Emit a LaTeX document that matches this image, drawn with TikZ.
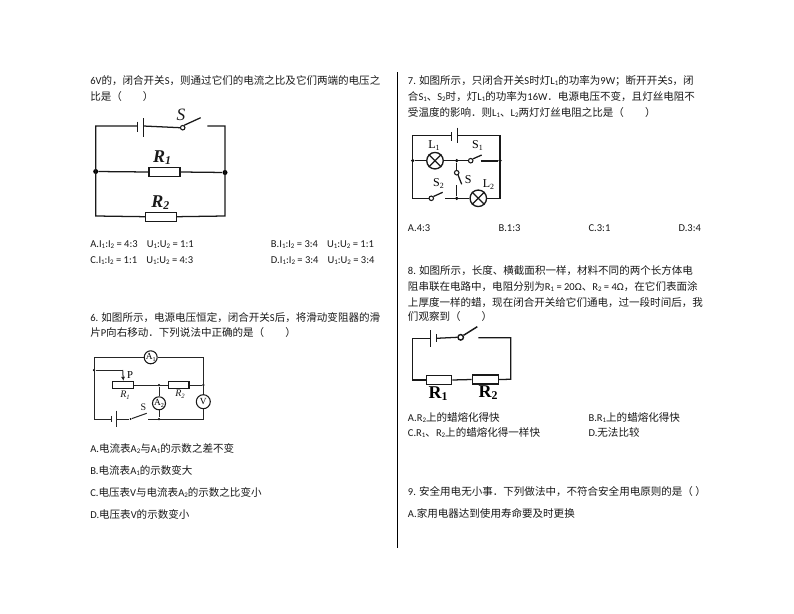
\documentclass[tikz,border=0pt]{standalone}
\usepackage{fontspec}
\usetikzlibrary{calc,arrows.meta}
\setmainfont{Carlito}
\newfontfamily\cjkfont{Noto Sans CJK SC}
\newfontfamily\lab{Liberation Serif}
\newcommand\zh[1]{{\cjkfont #1}}
\newcommand\sbs[1]{\raisebox{-0.8pt}{\fontsize{5.2pt}{6pt}\selectfont #1}}
\newcommand\sbl[1]{\raisebox{-1.5pt}{\fontsize{0.66em}{1em}\selectfont #1}}
\newcommand\gap{\hspace{6.8pt}}
\def\px{0.75pt}
\tikzset{
  txt/.style={anchor=west,inner sep=0pt,text height=6.5pt,text depth=1.5pt,font=\fontsize{7.9pt}{9pt}\selectfont,text=black!90},
  wire/.style={draw=black!90,line width=0.95pt},
  thin wire/.style={draw=black!85,line width=0.75pt},
  res/.style={draw=black!90,line width=1pt,fill=white,rectangle,inner sep=0pt},
  meter/.style={draw=black!90,line width=0.8pt,fill=white,circle,inner sep=0pt,minimum size=13*\px,font=\lab\fontsize{7pt}{8pt}\selectfont},
  lamp/.style={draw=black!90,line width=1pt,fill=white,circle,inner sep=0pt,minimum size=16.5*\px},
  pivot/.style={draw=black!90,line width=0.8pt,fill=white,circle,inner sep=0pt,minimum size=4.5*\px},
  dot/.style={fill=black,circle,inner sep=0pt,minimum size=3.5*\px},
  biglab/.style={inner sep=0pt,font=\lab\fontsize{13.5pt}{14pt}\selectfont\bfseries\itshape,text=black!90},
  boldlab/.style={inner sep=0pt,font=\lab\fontsize{13.5pt}{14pt}\selectfont\bfseries,text=black},
  smalllab/.style={inner sep=0pt,font=\lab\fontsize{9pt}{10pt}\selectfont,text=black},
  minilab/.style={inner sep=0pt,font=\lab\fontsize{7.5pt}{8pt}\selectfont,text=black!90},
}
\begin{document}
\begin{tikzpicture}[x=\px,y=-\px]
\useasboundingbox[fill=white] (0,0) rectangle (794,614);
% divider
\coordinate (divT) at (397.5,72); \coordinate (divB) at (397.5,548);
\draw[black,line width=0.8pt] (divT) -- (divB);

% ---- left column text
\node[txt] (a1) at (90,81.5) {6V\zh{的，闭合开关}S\zh{，则通过它们的电流之比及它们两端的电压之}};
\node[txt] (a2) at (90,96.7) {\zh{比是（　　）}};
\node[txt] (a3) at (90,244.3) {A.I\sbs{1}:I\sbs{2} = 4:3\gap U\sbs{1}:U\sbs{2} = 1:1};
\node[txt] (a4) at (270.7,244.3) {B.I\sbs{1}:I\sbs{2} = 3:4\gap U\sbs{1}:U\sbs{2} = 1:1};
\node[txt] (a5) at (90,260) {C.I\sbs{1}:I\sbs{2} = 1:1\gap U\sbs{1}:U\sbs{2} = 4:3};
\node[txt] (a6) at (270.7,260) {D.I\sbs{1}:I\sbs{2} = 3:4\gap U\sbs{1}:U\sbs{2} = 3:4};
\node[txt] (b1) at (90,318.3) {6. \zh{如图所示，电源电压恒定，闭合开关}S\zh{后，将滑动变阻器的滑}};
\node[txt] (b2) at (90,333.3) {\zh{片}P\zh{向右移动．下列说法中正确的是（　　）}};
\node[txt] (b3) at (90,449.3) {A.\zh{电流表}A\sbs{2}\zh{与}A\sbs{1}\zh{的示数之差不变}};
\node[txt] (b4) at (90,471) {B.\zh{电流表}A\sbs{1}\zh{的示数变大}};
\node[txt] (b5) at (90,492.7) {C.\zh{电压表}V\zh{与电流表}A\sbs{2}\zh{的示数之比变小}};
\node[txt] (b6) at (90,515) {D.\zh{电压表}V\zh{的示数变小}};

% ---- right column text
\node[txt] (c1) at (407.7,80.7) {7. \zh{如图所示，只闭合开关}S\zh{时灯}L\sbs{1}\zh{的功率为}9W\zh{；断开开关}S\zh{，闭}};
\node[txt] (c2) at (407.7,97) {\zh{合}S\sbs{1}\zh{、}S\sbs{2}\zh{时，灯}L\sbs{1}\zh{的功率为}16W\zh{．电源电压不变，且灯丝电阻不}};
\node[txt] (c3) at (407.7,112.7) {\zh{受温度的影响．则}L\sbs{1}\zh{、}L\sbs{2}\zh{两灯灯丝电阻之比是（　　）}};
\node[txt] (c4) at (407.7,228.3) {A.4:3};
\node[txt] (c5) at (498.3,228.3) {B.1:3};
\node[txt] (c6) at (588.3,228.3) {C.3:1};
\node[txt] (c7) at (678.3,228.3) {D.3:4};
\node[txt] (d1) at (407.7,270.7) {8. \zh{如图所示，长度、横截面积一样，材料不同的两个长方体电}};
\node[txt] (d2) at (407.7,286.7) {\zh{阻串联在电路中，电阻分别为}R\sbs{1} = 20Ω\zh{、}R\sbs{2} = 4Ω\zh{，在它们表面涂}};
\node[txt] (d3) at (407.7,302.7) {\zh{上厚度一样的蜡，现在闭合开关给它们通电，过一段时间后，我}};
\node[txt] (d4) at (407.7,317.3) {\zh{们观察到（　　）}};
\node[txt] (d5) at (407.7,418.3) {A.R\sbs{2}\zh{上的蜡熔化得快}};
\node[txt] (d6) at (588.3,418.3) {B.R\sbs{1}\zh{上的蜡熔化得快}};
\node[txt] (d7) at (407.7,433.3) {C.R\sbs{1}\zh{、}R\sbs{2}\zh{上的蜡熔化得一样快}};
\node[txt] (d8) at (588.3,433.3) {D.\zh{无法比较}};
\node[txt] (e1) at (407.7,492) {9. \zh{安全用电无小事．下列做法中，不符合安全用电原则的是（ ）}};
\node[txt] (e2) at (407.7,514) {A.\zh{家用电器达到使用寿命要及时更换}};

% ---- circuit 1
\coordinate (p1tl) at (95.7,126); \coordinate (p1tr) at (225,126);
\coordinate (p1bl) at (95.7,216); \coordinate (p1br) at (225,216);
\coordinate (p1bs) at (137.7,126); \coordinate (p1bl2) at (143.3,126);
\coordinate (p1sw) at (207.3,126);
\coordinate (p1tip) at (200.7,117.7);
\node[dot,minimum size=5*\px] (p1jl) at (95.7,171.5) {};
\node[dot,minimum size=5*\px] (p1jr) at (225,172.5) {};
\node[res,minimum width=31*\px,minimum height=9*\px] (p1r1) at (164.5,172) {};
\node[res,minimum width=30.5*\px,minimum height=9*\px] (p1r2) at (161,216.7) {};
\node[pivot] (p1pv) at (182.7,127.7) {};
\draw[wire] (p1bs) -- (p1tl) -- (p1bl) -- (p1r2.west);
\draw[wire] (p1r2.east) -- (p1br) -- (p1tr) -- (p1sw);
\draw[wire] (p1bl2) -- (p1pv.west);
\draw[wire] (p1pv.60) -- (p1tip);
\draw[wire] (p1jl) -- (p1r1.west);
\draw[wire] (p1r1.east) -- (p1jr);
\draw[wire] ($(p1bs)+(0,-4.5)$) -- ($(p1bs)+(0,5.5)$);
\draw[wire] ($(p1bl2)+(0,-8)$) -- ($(p1bl2)+(0,11)$);
\node[biglab] (p1L1) at (162,157.5) {R\sbl{1}};
\node[biglab] (p1L2) at (160.3,203) {R\sbl{2}};
\node[biglab,font=\lab\fontsize{13pt}{14pt}\selectfont\itshape] (p1S) at (181,115) {S};

% ---- circuit 6
\coordinate (p6tl) at (94,357.3); \coordinate (p6tr) at (203.3,357.3);
\coordinate (p6bl) at (94,419); \coordinate (p6br) at (203.3,419);
\coordinate (p6b1) at (111.7,419); \coordinate (p6b2) at (116.7,419);
\coordinate (p6sw) at (148.3,419); \coordinate (p6tip) at (146.7,413.3);
\coordinate (p6arr) at (122.7,370);
\node[dot,minimum size=2.5*\px] (p6j0) at (94,370) {};
\node[dot,minimum size=2.5*\px] (p6j1) at (159,385) {};
\node[dot,minimum size=2.5*\px] (p6j2) at (159,419) {};
\node[dot,minimum size=2.5*\px] (p6j3) at (203.3,385) {};
\node[dot,minimum size=2*\px] (p6pv) at (130.7,419) {};
\node[res,minimum width=21*\px,minimum height=7*\px] (p6r1) at (123.3,385) {};
\node[res,minimum width=20.5*\px,minimum height=6.5*\px] (p6r2) at (178.7,385) {};
\node[meter] (p6a1) at (150.7,357.3) {A\sbl{1}};
\node[meter] (p6a2) at (159,403.3) {A\sbl{2}};
\node[meter,minimum size=14*\px] (p6v) at (203.3,401.7) {V};
\draw[thin wire] (p6a1.west) -- (p6tl) -- (p6bl) -- (p6b1);
\draw[thin wire] (p6a1.east) -- (p6tr) -- (p6v.north);
\draw[thin wire] (p6v.south) -- (p6br) -- (p6sw);
\draw[thin wire] (p6b2) -- (p6pv);
\draw[thin wire] (p6pv) -- (p6tip);
\draw[thin wire] (p6j0) -- (p6arr);
\draw[thin wire,-{Latex[length=3pt,width=3pt]}] (p6arr) -- (p6r1.north);
\draw[thin wire] (p6r1.east) -- (p6r2.west);
\draw[thin wire] (p6r2.east) -- (p6j3);
\draw[thin wire] (p6j1) -- (p6a2.north);
\draw[thin wire] (p6a2.south) -- (p6j2);
\draw[thin wire] ($(p6b1)+(0,-3.2)$) -- ($(p6b1)+(0,3.2)$);
\draw[thin wire] ($(p6b2)+(0,-8.3)$) -- ($(p6b2)+(0,8.3)$);
\node[smalllab,font=\lab\fontsize{8pt}{9pt}\selectfont] (p6P) at (130,375.5) {P};
\node[minilab,font=\lab\itshape\fontsize{7.5pt}{8pt}\selectfont] (p6R1) at (125,395) {R\sbl{1}};
\node[minilab,font=\lab\itshape\fontsize{7.5pt}{8pt}\selectfont] (p6R2) at (180,394.5) {R\sbl{2}};
\node[minilab] (p6S) at (143.3,407.7) {S};

% ---- circuit 7
\coordinate (p7tl) at (412.7,135.7); \coordinate (p7tr) at (500,135.7);
\coordinate (p7bl) at (412.7,198.3); \coordinate (p7br) at (500,198.3);
\coordinate (p7b1) at (451.7,135.7); \coordinate (p7b2) at (457.3,135.7);
\node[dot] (p7jl) at (412.7,160.7) {};
\node[dot] (p7jr) at (500,160.7) {};
\node[dot] (p7jm) at (456.7,160.7) {};
\node[dot] (p7jb) at (456.7,198.3) {};
\node[lamp] (p7L1) at (435,160.7) {};
\node[lamp] (p7L2) at (478.3,198.3) {};
\node[pivot] (p7s1) at (470.7,160.7) {};
\node[pivot] (p7s) at (456.7,172.7) {};
\node[pivot] (p7s2) at (431.3,198.3) {};
\coordinate (p7t1) at (481.7,155); \coordinate (p7r1) at (480.7,160.7);
\coordinate (p7t) at (461.7,184.3); \coordinate (p7r) at (456.7,185);
\coordinate (p7t2) at (442.7,192.3); \coordinate (p7r2) at (445,198.3);
\draw[wire] (p7b1) -- (p7tl) -- (p7bl) -- (p7s2.west);
\draw[wire] (p7b2) -- (p7tr) -- (p7br) -- (p7L2.east);
\draw[wire] (p7jl) -- (p7L1.west);
\draw[wire] (p7L1.east) -- (p7s1.west);
\draw[wire] (p7s1.40) -- (p7t1);
\draw[wire,line width=1.2pt] (p7r1) -- (p7jr);
\draw[wire] (p7jm) -- (p7s.north);
\draw[wire] (p7s.-60) -- (p7t);
\draw[wire] (p7r) -- (p7jb);
\draw[wire] (p7s2.40) -- (p7t2);
\draw[wire] (p7r2) -- (p7L2.west);
\foreach \a/\b in {45/225,135/315} {
  \draw[wire] (p7L1.\a) -- (p7L1.\b);
  \draw[wire] (p7L2.\a) -- (p7L2.\b);
}
\draw[wire] ($(p7b1)+(0,-3.5)$) -- ($(p7b1)+(0,5)$);
\draw[wire] ($(p7b2)+(0,-8)$) -- ($(p7b2)+(0,7.6)$);
\node[smalllab] (p7l1) at (434,145.5) {L\sbl{1}};
\node[smalllab] (p7l2) at (488.5,185) {L\sbl{2}};
\node[smalllab] (p7ls1) at (477.5,145.5) {S\sbl{1}};
\node[smalllab] (p7ls2) at (438.5,184) {S\sbl{2}};
\node[smalllab] (p7ls) at (468.3,180) {S};

% ---- circuit 8
\coordinate (p8tl) at (412.7,338.3); \coordinate (p8tr) at (510.7,337.7);
\coordinate (p8bl) at (412.7,380); \coordinate (p8br) at (510.7,379.3);
\coordinate (p8b1) at (430.7,338.3); \coordinate (p8b2) at (436.7,338.3);
\coordinate (p8t) at (477.3,326.7); \coordinate (p8r) at (478.3,337.7);
\node[pivot,line width=1.1pt,minimum size=5.5*\px] (p8pv) at (460.7,337.3) {};
\node[res,minimum width=25*\px,minimum height=8.6*\px] (p8r1) at (439.2,380) {};
\node[res,minimum width=26*\px,minimum height=9*\px] (p8r2) at (485.3,379.5) {};
\draw[wire] (p8b1) -- (p8tl) -- (p8bl) -- (p8r1.west);
\draw[wire] (p8r1.east) -- (p8r2.west);
\draw[wire] (p8r2.east) -- (p8br) -- (p8tr) -- (p8r);
\draw[wire] (p8b2) -- (p8pv.west);
\draw[wire,line width=1.1pt] (p8pv.35) -- (p8t);
\draw[wire] ($(p8b1)+(0,-8.3)$) -- ($(p8b1)+(0,9)$);
\draw[wire] ($(p8b2)+(0,-4)$) -- ($(p8b2)+(0,3.4)$);
\node[boldlab] (p8R1) at (438,394) {R\sbl{1}};
\node[boldlab] (p8R2) at (488,392.7) {R\sbl{2}};
\end{tikzpicture}
\end{document}
